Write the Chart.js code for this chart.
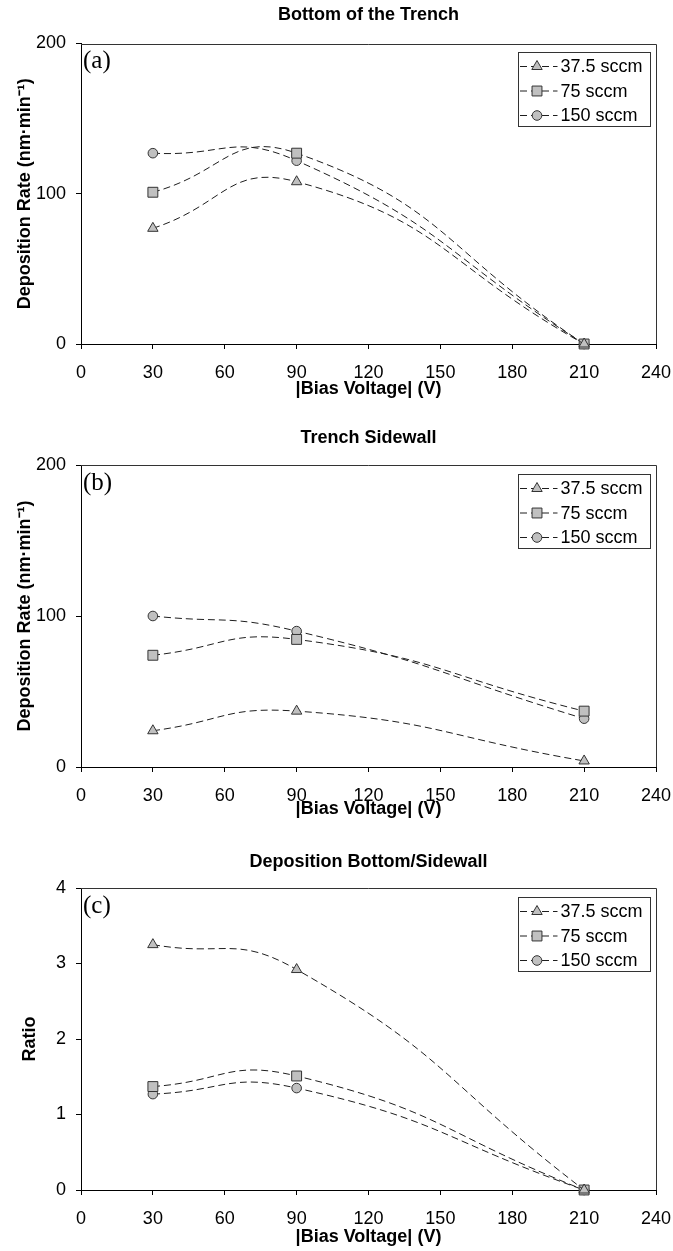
<!DOCTYPE html>
<html>
<head>
<meta charset="utf-8">
<script src="https://cdn.jsdelivr.net/npm/chart.js@4.4.1/dist/chart.umd.min.js"></script>
<style>
  html, body { margin: 0; padding: 0; background: #fff; }
  #wrap { position: relative; width: 673px; height: 1251px; overflow: hidden; }
  #wrap canvas { position: absolute; left: 0; }
</style>
</head>
<body>
<div id="wrap">
  <canvas id="panelA" width="673" height="410" style="top:0px"></canvas>
  <canvas id="panelB" width="673" height="410" style="top:420px"></canvas>
  <canvas id="panelC" width="673" height="411" style="top:840px"></canvas>
</div>
<script>
// |Bias voltage| in V
const biasVoltage = [30, 90, 210];
const flowLabels = ['37.5 sccm', '75 sccm', '150 sccm'];

// (a) deposition rate at the bottom of the trench, nm/min
const bottom375 = [77, 108, 0];
const bottom75 = [101, 127, 0];
const bottom150 = [127, 122, 0];

// (b) deposition rate on the trench sidewall, nm/min
const side375 = [24, 37, 4];
const side75 = [74, 84.5, 37];
const side150 = [100, 90, 32];

// (c) bottom / sidewall ratio
const ratio375 = [3.25, 2.92, 0];
const ratio75 = [1.37, 1.51, 0];
const ratio150 = [1.27, 1.35, 0];

const voltageTicks = [0, 30, 60, 90, 120, 150, 180, 210, 240];
const rateTicks = [0, 100, 200];
const ratioTicks = [0, 1, 2, 3, 4];

const panelTitles = ['Bottom of the Trench', 'Trench Sidewall', 'Deposition Bottom/Sidewall'];
const panelLetters = ['(a)', '(b)', '(c)'];
const xAxisTitle = '|Bias Voltage| (V)';
const rateAxisTitle = 'Deposition Rate (nm\u00B7min\u207B\u00B9)';
const ratioAxisTitle = 'Ratio';

const SANS = "'Liberation Sans', Arial, sans-serif";
const SERIF = "'Liberation Serif', 'Times New Roman', serif";

const markerStyles = [
  { pointStyle: 'triangle', radius: 6 },
  { pointStyle: 'rect', radius: 7 },
  { pointStyle: 'circle', radius: 4.8 }
];
const MARK_FILL = '#c0c0c0';
const MARK_EDGE = '#333333';
const LINE_COLOR = '#1e1e1e';
const DASH = [7, 4];

function toPoints(values) {
  return biasVoltage.map((v, i) => ({ x: v, y: values[i] }));
}

function buildDatasets(series) {
  return series.map((values, i) => ({
    label: flowLabels[i],
    data: toPoints(values),
    borderColor: LINE_COLOR,
    borderWidth: 1,
    borderDash: DASH,
    tension: 0.5,
    fill: false,
    clip: false,
    pointStyle: markerStyles[i].pointStyle,
    pointRadius: markerStyles[i].radius,
    pointHoverRadius: markerStyles[i].radius,
    pointBackgroundColor: MARK_FILL,
    pointBorderColor: MARK_EDGE,
    pointBorderWidth: 1
  }));
}

// plot frame (top and right edges; left and bottom come from the axes)
const frameLines = {
  id: 'frameLines',
  beforeDatasetsDraw(chart) {
    const { ctx, chartArea: a } = chart;
    ctx.save();
    ctx.strokeStyle = '#333';
    ctx.lineWidth = 1;
    ctx.beginPath();
    ctx.moveTo(a.left, Math.round(a.top) + 0.5);
    ctx.lineTo(Math.round(a.right) + 0.5, Math.round(a.top) + 0.5);
    ctx.lineTo(Math.round(a.right) + 0.5, a.bottom);
    ctx.stroke();
    ctx.restore();
  }
};

// panel heading and letter
const panelText = {
  id: 'panelText',
  afterDraw(chart, args, opts) {
    const { ctx, chartArea: a } = chart;
    ctx.save();
    ctx.fillStyle = '#000';
    ctx.textAlign = 'center';
    ctx.textBaseline = 'middle';
    ctx.font = 'bold 18px ' + SANS;
    ctx.fillText(opts.title, (a.left + a.right) / 2, a.top - opts.titleGap);
    ctx.textAlign = 'left';
    ctx.font = '25px ' + SERIF;
    ctx.fillText(opts.letter, a.left + 2, a.top + 18);
    ctx.restore();
  }
};

// boxed legend in the upper right of the plot
const boxedLegend = {
  id: 'boxedLegend',
  afterDraw(chart) {
    const { ctx, chartArea: a } = chart;
    const left = Math.round(a.right - 138) + 0.5;
    const top = Math.round(a.top + 8.5) + 0.5;
    const w = 132, h = 74;
    ctx.save();
    ctx.fillStyle = '#fff';
    ctx.fillRect(left, top, w, h);
    ctx.strokeStyle = '#333';
    ctx.lineWidth = 1;
    ctx.strokeRect(left, top, w, h);
    chart.data.datasets.forEach((ds, i) => {
      const y = top + 14 + i * 24.5;
      ctx.save();
      ctx.strokeStyle = LINE_COLOR;
      ctx.setLineDash(DASH);
      ctx.beginPath();
      ctx.moveTo(left + 1.5, y);
      ctx.lineTo(left + 39, y);
      ctx.stroke();
      ctx.restore();
      ctx.fillStyle = MARK_FILL;
      ctx.strokeStyle = MARK_EDGE;
      ctx.lineWidth = 1;
      Chart.helpers.drawPoint(ctx, {
        pointStyle: ds.pointStyle, radius: ds.pointRadius, borderWidth: 1, rotation: 0
      }, left + 18.5, y);
      ctx.fillStyle = '#000';
      ctx.font = '18px ' + SANS;
      ctx.textAlign = 'left';
      ctx.textBaseline = 'middle';
      ctx.fillText(ds.label, left + 42, y + 1);
    });
    ctx.restore();
  }
};

function makePanel(id, cfg) {
  const tickSet = (list) => (scale) => {
    scale.ticks = list.map(v => ({ value: v }));
  };
  return new Chart(document.getElementById(id), {
    type: 'line',
    data: { datasets: buildDatasets(cfg.series) },
    options: {
      responsive: false,
      animation: false,
      events: [],
      layout: { padding: { top: cfg.padTop, right: 17, left: 0, bottom: 0 } },
      scales: {
        x: {
          type: 'linear',
          min: 0,
          max: 240,
          afterBuildTicks: tickSet(voltageTicks),
          afterFit: (s) => { s.height = cfg.xHeight; s.paddingLeft = 0; s.paddingRight = 0; },
          ticks: { padding: 13, color: '#000', font: { family: SANS, size: 18 }, maxRotation: 0 },
          grid: { drawOnChartArea: false, drawTicks: true, tickLength: 5, tickColor: '#000', color: '#000' },
          border: { color: '#000', width: 1 },
          title: {
            display: true, text: xAxisTitle, color: '#000',
            font: { family: SANS, size: 18, weight: 'bold' },
            padding: { top: 0, bottom: cfg.xTitlePad }
          }
        },
        y: {
          type: 'linear',
          min: cfg.yTicks[0],
          max: cfg.yTicks[cfg.yTicks.length - 1],
          afterBuildTicks: tickSet(cfg.yTicks),
          afterFit: (s) => { s.width = 81; s.paddingTop = 0; s.paddingBottom = 0; },
          ticks: { padding: 10, color: '#000', font: { family: SANS, size: 18 } },
          grid: { drawOnChartArea: false, drawTicks: true, tickLength: 5, tickColor: '#000', color: '#000' },
          border: { color: '#000', width: 1 },
          title: {
            display: true, text: cfg.yTitle, color: '#000',
            font: { family: SANS, size: 18, weight: 'bold' },
            padding: { top: cfg.yTitlePad, bottom: 0 }
          }
        }
      },
      plugins: {
        legend: { display: false },
        tooltip: { enabled: false },
        title: { display: false },
        panelText: { title: cfg.title, letter: cfg.letter, titleGap: cfg.titleGap }
      }
    },
    plugins: [frameLines, panelText, boxedLegend]
  });
}

makePanel('panelA', {
  series: [bottom375, bottom75, bottom150], yTicks: rateTicks, yTitle: rateAxisTitle,
  title: panelTitles[0], letter: panelLetters[0],
  padTop: 43.5, xHeight: 66, xTitlePad: 10, yTitlePad: 14, titleGap: 28.5
});
makePanel('panelB', {
  series: [side375, side75, side150], yTicks: rateTicks, yTitle: rateAxisTitle,
  title: panelTitles[1], letter: panelLetters[1],
  padTop: 45, xHeight: 63, xTitlePad: 10, yTitlePad: 14, titleGap: 27
});
makePanel('panelC', {
  series: [ratio375, ratio75, ratio150], yTicks: ratioTicks, yTitle: ratioAxisTitle,
  title: panelTitles[2], letter: panelLetters[2],
  padTop: 48, xHeight: 61, xTitlePad: 3, yTitlePad: 19, titleGap: 26
});
</script>
</body>
</html>
